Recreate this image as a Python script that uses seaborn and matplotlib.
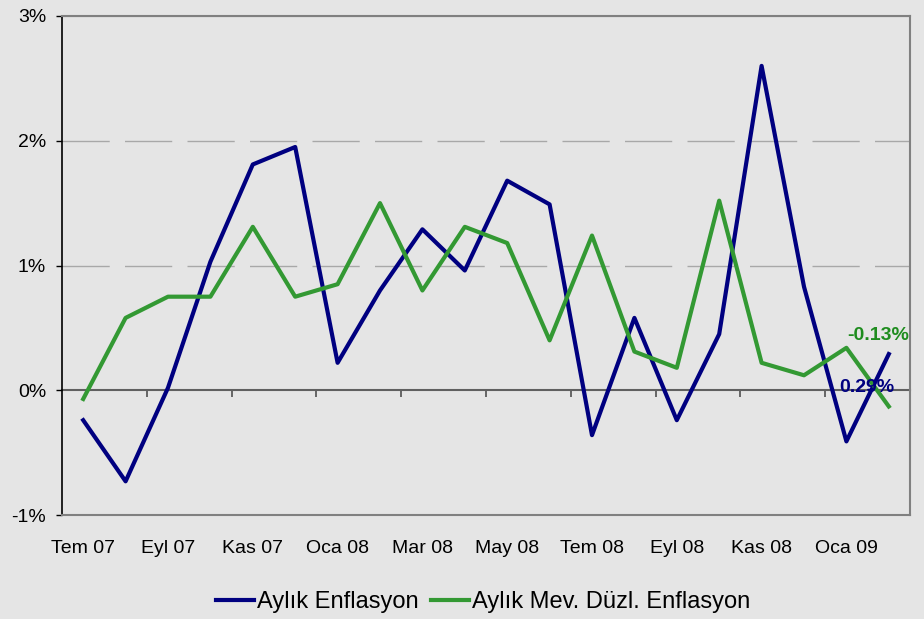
import matplotlib
matplotlib.use("Agg")
import matplotlib.pyplot as plt
import seaborn as sns
import pandas as pd
import numpy as np

# ---- data ----
months = ["Tem 07", "Ağu 07", "Eyl 07", "Eki 07", "Kas 07", "Ara 07",
          "Oca 08", "Şub 08", "Mar 08", "Nis 08", "May 08", "Haz 08",
          "Tem 08", "Ağu 08", "Eyl 08", "Eki 08", "Kas 08", "Ara 08",
          "Oca 09", "Şub 09"]
aylik = [-0.24, -0.73, 0.02, 1.03, 1.81, 1.95, 0.22, 0.80, 1.29, 0.96,
         1.68, 1.49, -0.36, 0.58, -0.24, 0.45, 2.60, 0.83, -0.41, 0.29]
mevduzl = [-0.07, 0.58, 0.75, 0.75, 1.31, 0.75, 0.85, 1.50, 0.80, 1.31,
           1.18, 0.40, 1.24, 0.31, 0.18, 1.52, 0.22, 0.12, 0.34, -0.13]
series_names = ["Aylık Enflasyon", "Aylık Mev. Düzl. Enflasyon"]
series_colors = ["#000080", "#339933"]
label_colors = ["#000080", "#1E8C1E"]
yticks = [-1, 0, 1, 2, 3]
ytick_labels = ["-1%", "0%", "1%", "2%", "3%"]

# ---- fonts ----
FONT = ["Liberation Sans", "DejaVu Sans"]
plt.rcParams["font.family"] = FONT

BG = "#E5E5E5"
df = pd.DataFrame({
    "idx": list(range(len(months))) * 2,
    "value": aylik + mevduzl,
    "series": [series_names[0]] * len(months) + [series_names[1]] * len(months),
})

fig = plt.figure(figsize=(9.24, 6.19), dpi=100, facecolor=BG)
ax = fig.add_axes([62 / 924, 1 - 515 / 619, (910 - 62) / 924, (515 - 16) / 619])
ax.set_facecolor(BG)

sns.lineplot(data=df, x="idx", y="value", hue="series", palette=series_colors,
             hue_order=series_names, linewidth=3.0, ax=ax, legend=True,
             sort=False, estimator=None)

n = len(months)
ax.set_xlim(-0.5, n - 0.5)
ax.set_ylim(-1, 3)

# gridlines
for v in [1, 2]:
    ax.axhline(v, color="#A8A8A8", lw=1.0, dashes=(34, 11), zorder=0)
ax.axhline(3, color="#808080", lw=1.5, zorder=0)

# spines
ax.spines["left"].set_color("black")
ax.spines["left"].set_linewidth(1.2)
for s in ["right", "bottom", "top"]:
    ax.spines[s].set_color("#808080")
    ax.spines[s].set_linewidth(1.5)

# y axis
ax.set_yticks(yticks)
ax.set_yticklabels(ytick_labels)
ax.tick_params(axis="y", direction="out", length=4.5, width=1, color="black",
               pad=7, labelsize=14, labelcolor="black")

# x axis labels (bottom)
ax.set_xticks(list(range(0, n, 2)))
ax.set_xticklabels([months[i] for i in range(0, n, 2)])
ax.tick_params(axis="x", length=0, pad=18, labelsize=14, labelcolor="black")
ax.set_xlabel("")
ax.set_ylabel("")

# zero line with tick marks at category boundaries
sec = ax.secondary_xaxis(0.25)
sec.set_xticks([i + 1.5 for i in range(0, n, 2)])
sec.set_xticklabels([])
sec.tick_params(direction="out", length=5, width=1.2, color="#505050")
sec.spines["bottom"].set_color("#606060")
sec.spines["bottom"].set_linewidth(1.5)

# end labels
ax.annotate(f"{mevduzl[-1]:.2f}%", xy=(n - 1, mevduzl[-1]), xytext=(-8, 51),
            textcoords="offset points", ha="center", va="center",
            fontsize=14, fontweight="bold", color=label_colors[1])
ax.annotate(f"{aylik[-1]:.2f}%", xy=(n - 1, aylik[-1]), xytext=(-16, -24),
            textcoords="offset points", ha="center", va="center",
            fontsize=14, fontweight="bold", color=label_colors[0])

# legend
handles, labels = ax.get_legend_handles_labels()
ax.get_legend().remove()
fig.legend(handles, labels, loc="center", bbox_to_anchor=(0.523, 0.027),
           ncol=2, frameon=False, fontsize=17, handlelength=1.6,
           handletextpad=0.15, columnspacing=0.5)

fig.savefig("out.png", dpi=100, facecolor=BG)
